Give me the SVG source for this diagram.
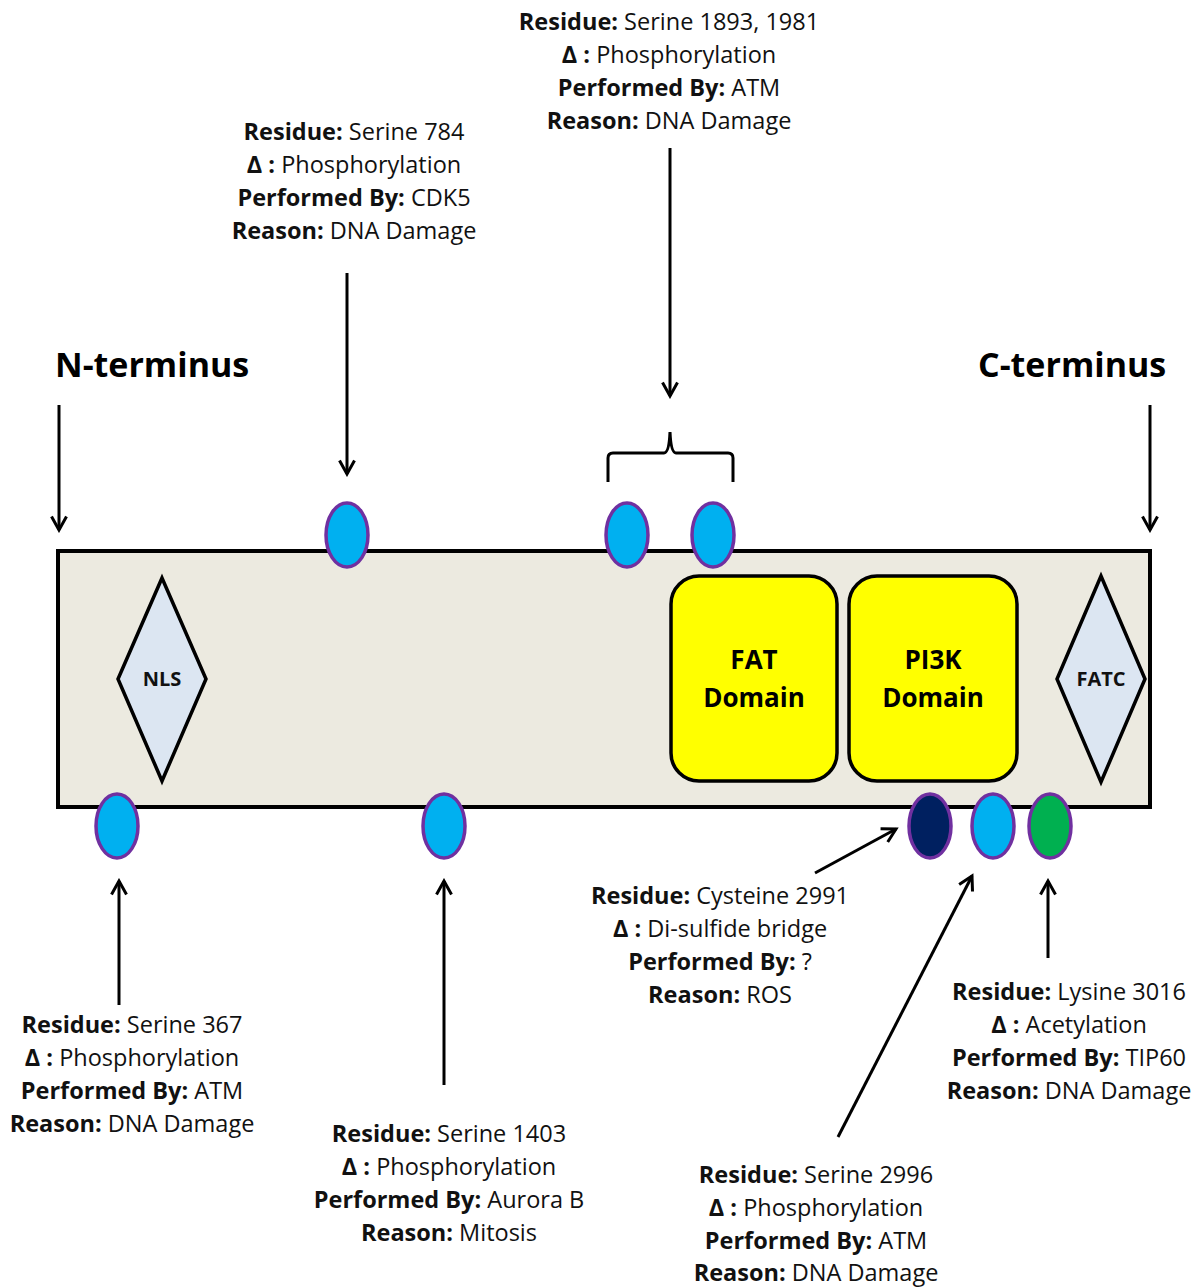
<svg xmlns="http://www.w3.org/2000/svg" width="1198" height="1287" viewBox="0 0 1198 1287">
<defs>
<style>
.lbl{font-family:"Open Sans","Liberation Sans",sans-serif;font-size:23.5px;fill:#111;text-anchor:middle}
.b{font-weight:bold}
.term{font-family:"Open Sans","Liberation Sans",sans-serif;font-size:34px;font-weight:bold;fill:#000}
.dom{font-family:"Open Sans","Liberation Sans",sans-serif;font-size:26px;font-weight:bold;fill:#000;text-anchor:middle}
.dia{font-family:"Open Sans","Liberation Sans",sans-serif;font-size:20px;font-weight:bold;fill:#111;text-anchor:middle}
.res{fill:#00B0F0;stroke:#7030A0;stroke-width:3.5}
.arr{stroke:#000;stroke-width:3;fill:none;marker-end:url(#ah)}
</style>
<marker id="ah" viewBox="0 0 12 12" refX="10" refY="6" markerWidth="6" markerHeight="6" orient="auto" markerUnits="strokeWidth">
<path d="M1,1 L10,6 L1,11" fill="none" stroke="#000" stroke-width="2"/>
</marker>
</defs>
<rect width="1198" height="1287" fill="#fff"/>
<g id="protein">
<rect x="58" y="551" width="1092" height="256" fill="#ECEAE0" stroke="#000" stroke-width="4"/>
</g>
<g id="nls">
<polygon points="162,578 206,679 162,781 118,679" fill="#DCE6F2" stroke="#000" stroke-width="3.5"/>
<text class="dia" x="162" y="686">NLS</text>
</g>
<g id="fatc">
<polygon points="1101,576 1145,679 1101,782 1057,679" fill="#DCE6F2" stroke="#000" stroke-width="3.5"/>
<text class="dia" x="1101" y="686">FATC</text>
</g>
<g id="fat">
<rect x="671" y="576" width="166" height="205" rx="28" fill="#FFFF00" stroke="#000" stroke-width="3.5"/>
<text class="dom" x="754" y="669">FAT</text>
<text class="dom" x="754" y="707">Domain</text>
</g>
<g id="pi3k">
<rect x="849" y="576" width="168" height="205" rx="28" fill="#FFFF00" stroke="#000" stroke-width="3.5"/>
<text class="dom" x="933" y="669">PI3K</text>
<text class="dom" x="933" y="707">Domain</text>
</g>
<g id="residues">
<ellipse class="res" cx="347" cy="535" rx="21" ry="32"/>
<ellipse class="res" cx="627" cy="535" rx="21" ry="32"/>
<ellipse class="res" cx="713" cy="535" rx="21" ry="32"/>
<ellipse class="res" cx="117" cy="826" rx="21" ry="32"/>
<ellipse class="res" cx="444" cy="826" rx="21" ry="32"/>
<ellipse class="res" cx="930" cy="826" rx="21" ry="32" style="fill:#002060"/>
<ellipse class="res" cx="993" cy="826" rx="21" ry="32"/>
<ellipse class="res" cx="1050" cy="826" rx="21" ry="32" style="fill:#00B050"/>
</g>
<g id="terminus-labels">
<text class="term" x="55" y="377">N-terminus</text>
<text class="term" x="978" y="377">C-terminus</text>
</g>
<g id="connectors">
<line class="arr" x1="59" y1="405" x2="59" y2="530"/>
<line class="arr" x1="1150" y1="405" x2="1150" y2="530"/>
<line class="arr" x1="347" y1="273" x2="347" y2="474"/>
<line class="arr" x1="670" y1="148" x2="670" y2="396"/>
<path d="M608,482 V458 Q608,453 613,453 H664 Q669,453 670,432 Q671,453 676,453 H728 Q733,453 733,458 V482" fill="none" stroke="#000" stroke-width="3"/>
<line class="arr" x1="119" y1="1005" x2="119" y2="881"/>
<line class="arr" x1="444" y1="1085" x2="444" y2="881"/>
<line class="arr" x1="815" y1="873" x2="896" y2="829"/>
<line class="arr" x1="838" y1="1137" x2="972" y2="876"/>
<line class="arr" x1="1048" y1="958" x2="1048" y2="881"/>
</g>
<g id="label-s1893">
<text class="lbl" x="669" y="30"><tspan class="b">Residue:</tspan> Serine 1893, 1981</text>
<text class="lbl" x="669" y="63"><tspan class="b">Δ :</tspan> Phosphorylation</text>
<text class="lbl" x="669" y="96"><tspan class="b">Performed By:</tspan> ATM</text>
<text class="lbl" x="669" y="129"><tspan class="b">Reason:</tspan> DNA Damage</text>
</g>
<g id="label-s784">
<text class="lbl" x="354" y="140"><tspan class="b">Residue:</tspan> Serine 784</text>
<text class="lbl" x="354" y="173"><tspan class="b">Δ :</tspan> Phosphorylation</text>
<text class="lbl" x="354" y="206"><tspan class="b">Performed By:</tspan> CDK5</text>
<text class="lbl" x="354" y="239"><tspan class="b">Reason:</tspan> DNA Damage</text>
</g>
<g id="label-s367">
<text class="lbl" x="132" y="1033"><tspan class="b">Residue:</tspan> Serine 367</text>
<text class="lbl" x="132" y="1066"><tspan class="b">Δ :</tspan> Phosphorylation</text>
<text class="lbl" x="132" y="1099"><tspan class="b">Performed By:</tspan> ATM</text>
<text class="lbl" x="132" y="1132"><tspan class="b">Reason:</tspan> DNA Damage</text>
</g>
<g id="label-s1403">
<text class="lbl" x="449" y="1142"><tspan class="b">Residue:</tspan> Serine 1403</text>
<text class="lbl" x="449" y="1175"><tspan class="b">Δ :</tspan> Phosphorylation</text>
<text class="lbl" x="449" y="1208"><tspan class="b">Performed By:</tspan> Aurora B</text>
<text class="lbl" x="449" y="1241"><tspan class="b">Reason:</tspan> Mitosis</text>
</g>
<g id="label-c2991">
<text class="lbl" x="720" y="904"><tspan class="b">Residue:</tspan> Cysteine 2991</text>
<text class="lbl" x="720" y="937"><tspan class="b">Δ :</tspan> Di-sulfide bridge</text>
<text class="lbl" x="720" y="970"><tspan class="b">Performed By:</tspan> ?</text>
<text class="lbl" x="720" y="1003"><tspan class="b">Reason:</tspan> ROS</text>
</g>
<g id="label-s2996">
<text class="lbl" x="816" y="1183"><tspan class="b">Residue:</tspan> Serine 2996</text>
<text class="lbl" x="816" y="1216"><tspan class="b">Δ :</tspan> Phosphorylation</text>
<text class="lbl" x="816" y="1249"><tspan class="b">Performed By:</tspan> ATM</text>
<text class="lbl" x="816" y="1281"><tspan class="b">Reason:</tspan> DNA Damage</text>
</g>
<g id="label-k3016">
<text class="lbl" x="1069" y="1000"><tspan class="b">Residue:</tspan> Lysine 3016</text>
<text class="lbl" x="1069" y="1033"><tspan class="b">Δ :</tspan> Acetylation</text>
<text class="lbl" x="1069" y="1066"><tspan class="b">Performed By:</tspan> TIP60</text>
<text class="lbl" x="1069" y="1099"><tspan class="b">Reason:</tspan> DNA Damage</text>
</g>
</svg>
